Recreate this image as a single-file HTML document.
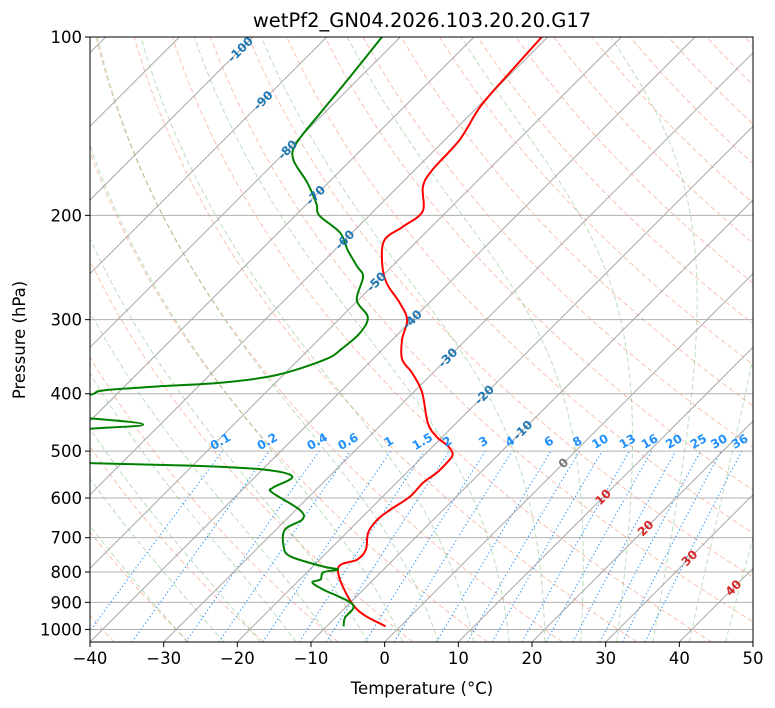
<!DOCTYPE html>
<html><head><meta charset="utf-8"><style>
html,body{margin:0;padding:0;background:#fff;}
svg{display:block;font-family:"DejaVu Sans","Liberation Sans",sans-serif;}
</style></head><body>
<svg id="chart" width="775" height="708" viewBox="0 0 775 708" xmlns="http://www.w3.org/2000/svg">
<defs><clipPath id="clip"><rect x="90" y="37" width="663" height="605"/></clipPath></defs>
<rect width="775" height="708" fill="#fff"/>
<text x="422" y="27" font-size="19.5" text-anchor="middle">wetPf2_GN04.2026.103.20.20.G17</text>
<g id="bg" clip-path="url(#clip)"></g>
<g id="traces" clip-path="url(#clip)"></g>
<g id="labels"></g>
<rect x="90" y="37" width="663" height="605" fill="none" stroke="#000" stroke-width="1"/>
<g id="axes"></g>
<text x="422" y="694" font-size="16.5" text-anchor="middle">Temperature (°C)</text>
<text x="25" y="340" font-size="16.5" text-anchor="middle" transform="rotate(-90 25 340)">Pressure (hPa)</text>
</svg>
<script>
// ---- data ----
const tempP = [100,115,131,149,168,179,197,209,220,240,260,281,300,324,350,369,398,448,473,491,507,523,544,565,597,628,652,686,733,762,792,918,988];
const tempT = [-60.8,-60.3,-59.7,-58.0,-57.6,-56.6,-53.3,-53.9,-54.6,-51.9,-48.5,-44.0,-40.7,-38.7,-36.0,-32.8,-28.8,-23.9,-20.8,-17.9,-16.2,-15.9,-15.9,-16.4,-16.3,-17.2,-17.6,-17.1,-15.1,-14.9,-16.2,-8.7,-2.0];
const dewP = [100,117,133,151,161,176,191,200,214,229,244,254,278,297,316,335,350,372,383,389,395,402,418,434,436,451,464,497,517,523,529,537,552,576,587,628,652,678,724,753,783,792,801,823,833,856,908,955,988];
const dewT = [-82.5,-81.4,-80.6,-79.7,-77.9,-72.9,-68.8,-66.8,-61.6,-58.2,-54.7,-52.5,-50.2,-46.4,-45.3,-45.6,-46.4,-50.9,-57.1,-65.6,-72.4,-73.6,-79,-78,-74.8,-62.3,-72.6,-72.9,-71.5,-67,-50.4,-39.9,-35.0,-36.1,-35.6,-29.5,-27.8,-28.8,-26.7,-24.4,-18.6,-16.2,-17.8,-17.2,-17.9,-15.5,-9.4,-8.7,-7.7];
const xTicks = [-40,-30,-20,-10,0,10,20,30,40,50];
const pTicks = [100,200,300,400,500,600,700,800,900,1000];
const mixVals = [0.1,0.2,0.4,0.6,1,1.5,2,3,4,6,8,10,13,16,20,25,30,36];
const isoLabelT = [-100,-90,-80,-70,-60,-50,-40,-30,-20,-10,0,10,20,30,40];
const isoLabelP = [105,128,155,185,220,259,300,348,402,461,524,598,675,758,851];

// ---- axes ----
const X0=90,X1=753,Y0=37,Y1=642,PB=1050,PT=100;
const NS='http://www.w3.org/2000/svg';
const yP = p => Y0 + (Y1-Y0)*Math.log10(p/PT)/Math.log10(PB/PT);
const sc = (X1-X0)/90;
const xT = (T,p) => X0 + (T+40)*sc + (Y1 - yP(p));
function mk(tag, attrs, parent){const e=document.createElementNS(NS,tag);for(const k in attrs)e.setAttribute(k,attrs[k]);parent.appendChild(e);return e;}
const bg=document.getElementById('bg'), tr=document.getElementById('traces'), lb=document.getElementById('labels'), ax=document.getElementById('axes');
function pathFrom(ps,Ts){return ps.map((p,i)=>(i?'L':'M')+xT(Ts[i],p).toFixed(2)+','+yP(p).toFixed(2)).join(' ');}
function smoothFrom(ps,Ts){
  const pts=ps.map((p,i)=>[xT(Ts[i],p),yP(p)]);
  let d='M'+pts[0][0].toFixed(2)+','+pts[0][1].toFixed(2);
  for(let i=0;i<pts.length-1;i++){
    const p0=pts[Math.max(0,i-1)],p1=pts[i],p2=pts[i+1],p3=pts[Math.min(pts.length-1,i+2)];
    const c1=[p1[0]+(p2[0]-p0[0])/6,p1[1]+(p2[1]-p0[1])/6];
    const c2=[p2[0]-(p3[0]-p1[0])/6,p2[1]-(p3[1]-p1[1])/6];
    d+=` C${c1[0].toFixed(2)},${c1[1].toFixed(2)} ${c2[0].toFixed(2)},${c2[1].toFixed(2)} ${p2[0].toFixed(2)},${p2[1].toFixed(2)}`;
  }
  return d;
}
const pLevels=[];for(let p=PB;p>=PT-0.01;p-=5)pLevels.push(p);

// dry adiabats
for(let th=-50;th<=260;th+=10){
  const Ts=pLevels.map(p=>(th+273.15)*Math.pow(p/1000,0.2857)-273.15);
  const e=mk('path',{d:pathFrom(pLevels,Ts),fill:'none',stroke:'rgba(240,110,70,0.42)','stroke-width':1,'stroke-dasharray':'5,3'},bg);
  
  
}
// moist adiabats
function rs(T,p){const es=6.112*Math.exp(17.67*T/(T+243.5));return 0.622*es/(p-es);}
function dTdp(T,p){const Tk=T+273.15,r=rs(T,p),Rd=287,Lv=2.5e6,Cp=1005;
  return (Rd*Tk+Lv*r)/(Cp+Lv*Lv*r*0.622/(Rd*Tk*Tk))/p;}
for(let t0=-30;t0<=45;t0+=5){
  const ps=[],Ts=[];
  let T=t0;for(let p=1000;p<PB;p+=2){T+=dTdp(T,p)*2;}
  for(let p=PB;p>=PT;p-=2){ps.push(p);Ts.push(T);T-=dTdp(T,p)*2;}
  const e=mk('path',{d:pathFrom(ps,Ts),fill:'none',stroke:'rgba(60,160,60,0.35)','stroke-width':1,'stroke-dasharray':'5,3'},bg);
  
  
}
// mixing ratio lines
mixVals.forEach(w=>{
  const ps=[],Ts=[];
  for(let p=PB;p>=500;p-=10){const e=w*p/(622+w);const l=Math.log(e/6.112);ps.push(p);Ts.push(243.5*l/(17.67-l));}
  const el=mk('path',{d:pathFrom(ps,Ts),fill:'none',stroke:'#1e90ff','stroke-width':1.1,'stroke-dasharray':'1.2,2.6'},bg);
  
  
  const x=xT(Ts[Ts.length-1],500);
  const t=mk('text',{x:x,y:445,'font-size':12,'font-weight':'bold',fill:'#1e90ff','text-anchor':'middle',transform:`rotate(-30 ${x} 445)`},lb);
  t.textContent=String(w);
  
  
});
// horizontal grid
pTicks.forEach(p=>{
  const e=mk('line',{x1:X0,x2:X1,y1:yP(p),y2:yP(p),stroke:'#b0b0b0','stroke-width':1},bg);
  
  
});
// isotherms
for(let T=-150;T<=60;T+=10){
  const e=mk('line',{x1:xT(T,PB),y1:yP(PB),x2:xT(T,PT),y2:yP(PT),stroke:'#a8a8a8','stroke-width':1},bg);
  
  
}
// isotherm labels
isoLabelT.forEach((T,i)=>{
  const p=isoLabelP[i],x=xT(T,p),y=yP(p);
  const col=T<0?'#1f77b4':(T===0?'#777':'#d62728');
  const t=mk('text',{x:x,y:y+4,'font-size':12,'font-weight':'bold',fill:col,'text-anchor':'middle',transform:`rotate(-45 ${x} ${y})`},lb);
  t.textContent=String(T);
  
  
});
// traces
const tl=mk('path',{d:smoothFrom(tempP,tempT),fill:'none',stroke:'#ff0000','stroke-width':2},tr);


const dl=mk('path',{d:smoothFrom(dewP,dewT),fill:'none',stroke:'#008000','stroke-width':2},tr);


// ticks
xTicks.forEach(T=>{
  const x=X0+(T+40)*sc;
  const l=mk('line',{x1:x,x2:x,y1:Y1,y2:Y1+5,stroke:'#000'},ax);
  
  
  const t=mk('text',{x:x,y:Y1+22,'font-size':16.5,'text-anchor':'middle'},ax);
  t.textContent=(T<0?'\u2212'+(-T):String(T));
  
  
});
pTicks.forEach(p=>{
  const y=yP(p);
  const l=mk('line',{x1:X0-5,x2:X0,y1:y,y2:y,stroke:'#000'},ax);
  
  
  const t=mk('text',{x:X0-8,y:y+6,'font-size':16.5,'text-anchor':'end'},ax);
  t.textContent=String(p);
  
  
});
</script>
</body></html>
